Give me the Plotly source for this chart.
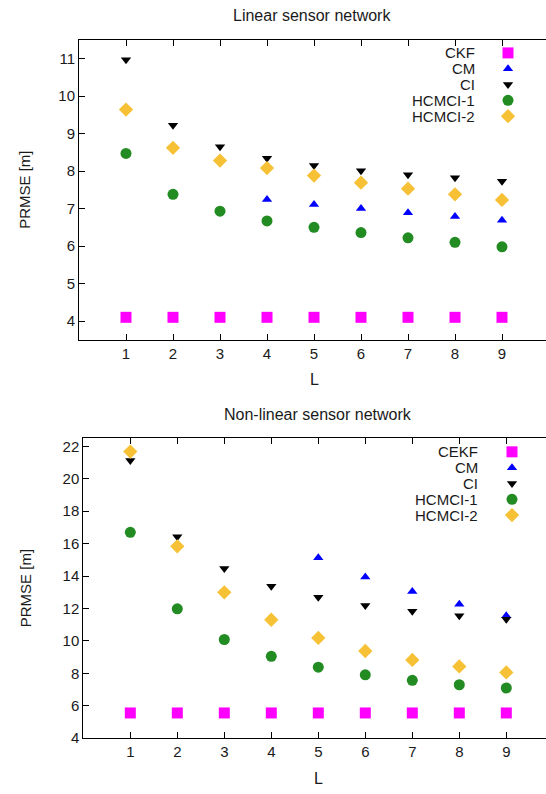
import plotly.graph_objects as go

W, H = 546, 794

# ---------------- data ----------------
L = [1, 2, 3, 4, 5, 6, 7, 8, 9]
L_cm_lin = [4, 5, 6, 7, 8, 9]
L_cm_nl = [5, 6, 7, 8, 9]

lin_ckf = [4.1, 4.1, 4.1, 4.1, 4.1, 4.1, 4.1, 4.1, 4.1]
lin_cm = [7.24, 7.11, 7.0, 6.89, 6.79, 6.69]
lin_ci = [10.97, 9.22, 8.65, 8.34, 8.15, 8.01, 7.9, 7.82, 7.73]
lin_h1 = [8.47, 7.38, 6.93, 6.67, 6.5, 6.36, 6.22, 6.1, 5.98]
lin_h2 = [9.64, 8.62, 8.28, 8.08, 7.88, 7.69, 7.53, 7.38, 7.23]

nl_cekf = [5.56, 5.56, 5.56, 5.56, 5.56, 5.56, 5.56, 5.56, 5.56]
nl_cm = [15.13, 13.94, 13.05, 12.26, 11.55]
nl_ci = [21.13, 16.42, 14.47, 13.37, 12.7, 12.19, 11.83, 11.56, 11.34]
nl_h1 = [16.7, 11.98, 10.09, 9.05, 8.38, 7.91, 7.57, 7.3, 7.1]
nl_h2 = [21.68, 15.84, 13.0, 11.31, 10.19, 9.38, 8.83, 8.43, 8.06]

lin_yticks = [4, 5, 6, 7, 8, 9, 10, 11]
nl_yticks = [4, 6, 8, 10, 12, 14, 16, 18, 20, 22]
xticks = [1, 2, 3, 4, 5, 6, 7, 8, 9]

lin_names = ["CKF", "CM", "CI", "HCMCI-1", "HCMCI-2"]
nl_names = ["CEKF", "CM", "CI", "HCMCI-1", "HCMCI-2"]

# ---------------- styles ----------------
FONT = "Liberation Sans, Arial, Helvetica, sans-serif"
FS = 15
FS_T = 16
styles = [
    dict(symbol="square", color="#FF00FF", size=11),
    dict(symbol="triangle-up", color="#0000FF", size=9),
    dict(symbol="triangle-down", color="#000000", size=9),
    dict(symbol="circle", color="#228B22", size=11),
    dict(symbol="diamond", color="#F7C136", size=11),
]


def px(x):
    return x / W


def py(y):
    return 1 - y / H


fig = go.Figure()

top_series = [(L, lin_ckf), (L_cm_lin, lin_cm), (L, lin_ci), (L, lin_h1), (L, lin_h2)]
bot_series = [(L, nl_cekf), (L_cm_nl, nl_cm), (L, nl_ci), (L, nl_h1), (L, nl_h2)]

for (xs, ys), st in zip(top_series, styles):
    fig.add_trace(go.Scatter(x=xs, y=ys, mode="markers", xaxis="x", yaxis="y",
                             marker=dict(symbol=st["symbol"], color=st["color"], size=st["size"],
                                         line=dict(width=0)),
                             showlegend=False, cliponaxis=False))
for (xs, ys), st in zip(bot_series, styles):
    fig.add_trace(go.Scatter(x=xs, y=ys, mode="markers", xaxis="x2", yaxis="y2",
                             marker=dict(symbol=st["symbol"], color=st["color"], size=st["size"],
                                         line=dict(width=0)),
                             showlegend=False, cliponaxis=False))

# ---------------- legends (helper pixel axis) ----------------
leg_specs = [
    (lin_names, 508, 477, 52.5, 16.0),
    (nl_names, 512, 480, 456.0, 16.0),
]
annotations = []
for names, mx, tx, y0, dy in leg_specs:
    rows = [y0 + i * dy for i in range(len(names))]
    for i, (nm, st) in enumerate(zip(names, styles)):
        fig.add_trace(go.Scatter(x=[mx], y=[rows[i]], mode="markers", xaxis="x3", yaxis="y3",
                                 marker=dict(symbol=st["symbol"], color=st["color"], size=st["size"],
                                             line=dict(width=0)),
                                 showlegend=False, cliponaxis=False, hoverinfo="skip"))
        annotations.append(dict(x=px(tx), y=py(rows[i]), xref="paper", yref="paper", text=nm,
                                showarrow=False, xanchor="right", yanchor="middle",
                                font=dict(family=FONT, size=FS, color="#1a1a1a")))

# titles and axis titles
annotations += [
    dict(x=px(312), y=py(15), xref="paper", yref="paper", text="Linear sensor network",
         showarrow=False, xanchor="center", yanchor="middle", font=dict(family=FONT, size=FS_T, color="#1a1a1a")),
    dict(x=px(318), y=py(418), xref="paper", yref="paper", text="Non-linear sensor network",
         showarrow=False, xanchor="center", yanchor="middle", font=dict(family=FONT, size=FS_T, color="#1a1a1a")),
    dict(x=px(314), y=py(383), xref="paper", yref="paper", text="L",
         showarrow=False, xanchor="center", yanchor="middle", font=dict(family=FONT, size=FS_T, color="#1a1a1a")),
    dict(x=px(318), y=py(786), xref="paper", yref="paper", text="L",
         showarrow=False, xanchor="center", yanchor="middle", font=dict(family=FONT, size=FS_T, color="#1a1a1a")),
    dict(x=px(25), y=py(191), xref="paper", yref="paper", text="PRMSE [m]", textangle=-90,
         showarrow=False, xanchor="center", yanchor="middle", font=dict(family=FONT, size=FS, color="#1a1a1a")),
    dict(x=px(25), y=py(594), xref="paper", yref="paper", text="PRMSE [m]", textangle=-90,
         showarrow=False, xanchor="center", yanchor="middle", font=dict(family=FONT, size=FS, color="#1a1a1a")),
]

# ---------------- axes ----------------
top_x0, bot_x0 = 79.0, 83.3
unit = 47.0
top_dom_y = [py(342.7), py(39.3)]
bot_dom_y = [py(745.7), py(442.3)]

axis_common = dict(showgrid=False, zeroline=False, ticks="inside", ticklen=6, tickwidth=1,
                   tickcolor="black", linecolor="black", linewidth=1, showline=True,
                   tickfont=dict(family=FONT, size=FS, color="#1a1a1a"))

fig.update_layout(
    width=W, height=H, margin=dict(l=0, r=0, t=0, b=0),
    paper_bgcolor="white", plot_bgcolor="rgba(0,0,0,0)",
    annotations=annotations, hovermode=False,
    xaxis=dict(domain=[px(top_x0), 1], range=[0, (W - top_x0) / unit], anchor="y",
               tickvals=xticks, mirror="ticks", **axis_common),
    yaxis=dict(domain=top_dom_y, range=[3.5, 11.5], anchor="x", tickvals=lin_yticks, **axis_common),
    yaxis4=dict(domain=top_dom_y, range=[3.5, 11.5], anchor="x", overlaying="y", side="right",
                tickvals=lin_yticks, showticklabels=False, showgrid=False, zeroline=False,
                ticks="inside", ticklen=6, tickcolor="black", showline=False),
    xaxis2=dict(domain=[px(bot_x0), 1], range=[0, (W - bot_x0) / unit], anchor="y2",
                tickvals=xticks, mirror="ticks", **axis_common),
    yaxis2=dict(domain=bot_dom_y, range=[4, 22.5], anchor="x2", tickvals=nl_yticks, **axis_common),
    xaxis3=dict(domain=[0, 1], range=[0, W], visible=False, anchor="y3"),
    yaxis3=dict(domain=[0, 1], range=[H, 0], visible=False, anchor="x3"),
)

fig.write_html("out.html", config={"displayModeBar": False, "staticPlot": True},
               post_script="document.body.style.margin='0px';document.body.style.overflow='hidden';")
